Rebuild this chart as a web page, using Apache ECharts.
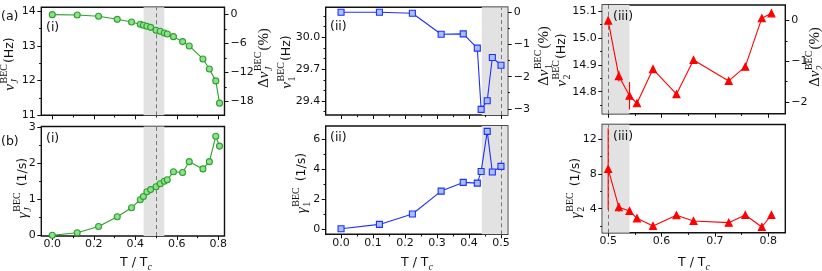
<!DOCTYPE html>
<html><head><meta charset="utf-8">
<script src="https://cdn.jsdelivr.net/npm/echarts@6/dist/echarts.min.js"></script>
<style>html,body{margin:0;padding:0;background:#fff}#c{width:822px;height:271px}</style>
</head><body><div id="c"></div>
<script>
// ---------- data ----------
const T_J = [0.0, 0.12, 0.223, 0.313, 0.382, 0.424, 0.439, 0.456, 0.474, 0.5, 0.52, 0.54, 0.554, 0.584, 0.628, 0.66, 0.726, 0.757, 0.788, 0.806];
const nuJ = [13.895, 13.885, 13.847, 13.76, 13.684, 13.617, 13.588, 13.56, 13.53, 13.444, 13.416, 13.368, 13.34, 13.262, 13.119, 12.994, 12.62, 12.333, 11.99, 11.35];
const gammaJ = [0.01, 0.08, 0.25, 0.52, 0.77, 0.99, 1.08, 1.21, 1.27, 1.35, 1.43, 1.50, 1.54, 1.76, 1.74, 2.04, 1.84, 2.04, 2.74, 2.47];
const T_1 = [0.0, 0.12, 0.223, 0.313, 0.382, 0.426, 0.438, 0.457, 0.473, 0.5];
const nu1 = [30.234, 30.234, 30.225, 30.028, 30.031, 29.897, 29.322, 29.403, 29.809, 29.737];
const gamma1 = [0.0, 0.29, 0.98, 2.51, 3.09, 3.04, 3.82, 6.49, 3.78, 4.16];
const T_2 = [0.5, 0.52, 0.54, 0.554, 0.584, 0.628, 0.66, 0.726, 0.757, 0.788, 0.806];
const nu2 = [15.064, 14.858, 14.785, 14.757, 14.884, 14.791, 14.918, 14.840, 14.893, 15.073, 15.091];
const nu2Err = [0.015, 0.02, 0.051, 0.01, 0.008, 0.006, 0.006, 0.006, 0.006, 0.006, 0.006];
const gamma2 = [8.58, 4.16, 3.73, 2.89, 2.0, 3.24, 2.58, 2.39, 3.27, 1.89, 3.27];
const gamma2Err = [4.7, 0.5, 0.35, 0.15, 0.15, 0.15, 0.15, 0.15, 0.15, 0.15, 0.15];
const shadeRange = [0.44, 0.54];
const dashedAt = 0.5;

// tick values
const xTicksJ = [0, 0.2, 0.4, 0.6, 0.8];
const xMinorJ = [0.1, 0.3, 0.5, 0.7];
const xTicks1 = [0, 0.1, 0.2, 0.3, 0.4, 0.5];
const xMinor1 = [0.05, 0.15, 0.25, 0.35, 0.45];
const xTicks2 = [0.5, 0.6, 0.7, 0.8];
const xMinor2 = [0.55, 0.65, 0.75];
const yTicksNuJ = [11, 12, 13, 14];
const yMinorNuJ = [11.5, 12.5, 13.5];
const pctTicksJ = [0, -6, -12, -18];
const pctMinorJ = [-3, -9, -15];
const yTicksGJ = [0, 1, 2, 3];
const yMinorGJ = [0.5, 1.5, 2.5];
const yTicksNu1 = [29.4, 29.7, 30.0];
const yMinorNu1 = [29.3, 29.5, 29.6, 29.8, 29.9, 30.1, 30.2];
const pctTicks1 = [0, -1, -2, -3];
const pctMinor1 = [-0.5, -1.5, -2.5];
const yTicksG1 = [0, 2, 4, 6];
const yMinorG1 = [1, 3, 5];
const yTicksNu2 = [14.8, 14.9, 15.0, 15.1];
const yMinorNu2 = [14.75, 14.85, 14.95, 15.05];
const pctTicks2 = [0, -1, -2];
const pctMinor2 = [-0.5, -1.5];
const yTicksG2 = [4, 8, 12];
const yMinorG2 = [2, 6, 10];

// ---------- helpers ----------
const SANS = '"DejaVu Sans", sans-serif';
const SERIF = '"Liberation Serif", "DejaVu Serif", serif';
const INK = '#111';
const dash = s => s.replace('-', '\u2212');
const fmt0 = v => dash(String(Math.round(v)));
const fmt1 = v => dash((Math.round(v * 10) / 10).toFixed(1));

function axisPair(gi, pos, range, maj, min, showLab, fmt) {
  const common = {type: 'value', gridIndex: gi, position: pos, min: range[0], max: range[1],
    axisLine: {show: false, onZero: false}, splitLine: {show: false}, splitArea: {show: false}};
  const margin = pos === 'right' ? 6 : (pos === 'left' ? 5.5 : 3);
  const a = Object.assign({}, common, {
    axisTick: {show: true, inside: false, length: 4, customValues: maj, lineStyle: {color: INK, width: 1}},
    axisLabel: {show: showLab, customValues: maj, formatter: fmt, color: INK, fontSize: 11, fontFamily: SANS, margin: margin}
  });
  const b = Object.assign({}, common, {
    axisTick: {show: true, inside: false, length: 2.2, customValues: min, lineStyle: {color: INK, width: 1}},
    axisLabel: {show: false}
  });
  return [a, b];
}

const grids = [], xAxes = [], yAxes = [], series = [];

function addPanel(p) {
  const gi = grids.length;
  grids.push(Object.assign({show: true, borderColor: INK, borderWidth: 1.4, backgroundColor: 'transparent'}, p.grid));
  const xi = xAxes.length;
  xAxes.push(...axisPair(gi, 'bottom', p.x, p.xMaj, p.xMin, p.xLab, fmt1));
  const yi = yAxes.length;
  yAxes.push(...axisPair(gi, 'left', p.y, p.yMaj, p.yMin, true, p.yFmt));
  if (p.pct) {
    const ref = p.pct.ref;
    const r = [(p.y[0] / ref - 1) * 100, (p.y[1] / ref - 1) * 100];
    yAxes.push(...axisPair(gi, 'right', r, p.pct.maj, p.pct.min, true, fmt0));
  }
  const a0 = Math.max(shadeRange[0], p.x[0]), a1 = Math.min(shadeRange[1], p.x[1]);
  const data = p.t.map((t, i) => [t, p.v[i]]);
  if (p.err) {
    series.push({
      type: 'custom', xAxisIndex: xi, yAxisIndex: yi, clip: true, z: 4, silent: true,
      data: p.t.map((t, i) => [t, p.v[i] - p.err[i], p.v[i] + p.err[i]]),
      encode: {x: 0, y: [1, 2]},
      renderItem: (params, api) => {
        const c1 = api.coord([api.value(0), api.value(1)]);
        const c2 = api.coord([api.value(0), api.value(2)]);
        return {type: 'line', shape: {x1: c1[0], y1: c1[1], x2: c2[0], y2: c2[1]},
          style: {stroke: p.color, lineWidth: 1.1}};
      }
    });
  }
  series.push({
    type: 'line', xAxisIndex: xi, yAxisIndex: yi, data: data, z: 3,
    symbol: p.symbol, symbolSize: p.symbolSize, showSymbol: true,
    lineStyle: {color: p.color, width: 1.1},
    itemStyle: {color: p.fill, borderColor: p.color, borderWidth: 1.1},
    markArea: {silent: true, z: 1, itemStyle: {color: '#e2e2e2'},
      data: [[{xAxis: a0}, {xAxis: a1}]]},
    markLine: {silent: true, symbol: 'none', z: 2, label: {show: false},
      lineStyle: {color: '#777', type: [4, 3], width: 1},
      data: [{xAxis: dashedAt}]}
  });
}

const green = {color: '#2ca02c', fill: '#8ee08e', symbol: 'circle', symbolSize: 6};
const blue = {color: '#1f2fff', fill: '#a8c0ff', symbol: 'rect', symbolSize: 6};
const red = {color: '#ff0000', fill: '#ff0000', symbol: 'triangle', symbolSize: 7};

addPanel(Object.assign({grid: {left: 41.3, top: 7.3, width: 183.2, height: 108},
  x: [-0.053, 0.83], xMaj: xTicksJ, xMin: xMinorJ, xLab: false,
  y: [11, 14.106], yMaj: yTicksNuJ, yMin: yMinorNuJ, yFmt: fmt0,
  pct: {ref: nuJ[0], maj: pctTicksJ, min: pctMinorJ}, t: T_J, v: nuJ}, green));
addPanel(Object.assign({grid: {left: 41.3, top: 126.5, width: 183.2, height: 109.5},
  x: [-0.053, 0.83], xMaj: xTicksJ, xMin: xMinorJ, xLab: true,
  y: [-0.01, 3.01], yMaj: yTicksGJ, yMin: yMinorGJ, yFmt: fmt0, t: T_J, v: gammaJ}, green));
addPanel(Object.assign({grid: {left: 325.7, top: 7.3, width: 182, height: 107.7},
  x: [-0.048, 0.521], xMaj: xTicks1, xMin: xMinor1, xLab: false,
  y: [29.269, 30.281], yMaj: yTicksNu1, yMin: yMinorNu1, yFmt: fmt1,
  pct: {ref: nu1[0], maj: pctTicks1, min: pctMinor1}, t: T_1, v: nu1}, blue));
addPanel(Object.assign({grid: {left: 325.7, top: 126, width: 182, height: 108.3},
  x: [-0.048, 0.521], xMaj: xTicks1, xMin: xMinor1, xLab: true,
  y: [-0.37, 6.85], yMaj: yTicksG1, yMin: yMinorG1, yFmt: fmt0, t: T_1, v: gamma1}, blue));
addPanel(Object.assign({grid: {left: 602.3, top: 5, width: 183, height: 108.8},
  x: [0.489, 0.832], xMaj: xTicks2, xMin: xMinor2, xLab: false,
  y: [14.718, 15.122], yMaj: yTicksNu2, yMin: yMinorNu2, yFmt: fmt1,
  pct: {ref: nu2[0], maj: pctTicks2, min: pctMinor2}, t: T_2, v: nu2, err: nu2Err}, red));
addPanel(Object.assign({grid: {left: 602.3, top: 124.5, width: 183, height: 108.2},
  x: [0.489, 0.832], xMaj: xTicks2, xMin: xMinor2, xLab: true,
  y: [1.233, 13.706], yMaj: yTicksG2, yMin: yMinorG2, yFmt: fmt0, t: T_2, v: gamma2, err: gamma2Err}, red));

// ---------- text labels ----------
const mctx = document.createElement('canvas').getContext('2d');
function tw(t, f) { mctx.font = f; return mctx.measureText(t).width; }
function txt(x, y, t, f, align) {
  return {type: 'text', x: x, y: y, silent: true, z: 100,
    style: {text: t, font: f, fill: INK, textAlign: align || 'left', align: align || 'left',
      textVerticalAlign: 'middle', verticalAlign: 'middle'}};
}
function mlabel(cx, cy, rot, parts) {
  const kids = []; let x = 0;
  parts.forEach(p => {
    const items = p.stack ? p.stack : [p];
    let wmax = 0;
    items.forEach(q => {
      wmax = Math.max(wmax, tw(q.t, q.f));
      kids.push(txt(x, q.dy || 0, q.t, q.f));
    });
    x += wmax + (p.gap || 0);
  });
  kids.forEach(k => { k.x -= x / 2; });
  return {type: 'group', x: cx, y: cy, rotation: rot, children: kids, silent: true, z: 100};
}
const R = Math.PI / 2;
const fNu = 'italic 15px ' + SERIF;
const fSup = '10px ' + SERIF;
const fSubI = 'italic 10px ' + SERIF;
const fUnit = '12.5px ' + SANS;
const fPct = '15px ' + SERIF;
function nuLabel(cx, cy, sub, subItalic) {
  return mlabel(cx, cy, R, [{t: 'ν', f: fNu, gap: 0.5},
    {stack: [{t: 'BEC', f: fSup, dy: -6}, {t: sub, f: subItalic ? fSubI : fSup, dy: 5}], gap: 1},
    {t: '(Hz)', f: fUnit}]);
}
function dnuLabel(cx, cy, sub, subItalic) {
  return mlabel(cx, cy, R, [{t: 'Δ', f: fPct}, {t: 'ν', f: fNu, gap: 0.5},
    {stack: [{t: 'BEC', f: fSup, dy: -6}, {t: sub, f: subItalic ? fSubI : fSup, dy: 5}], gap: 1},
    {t: '(%)', f: fPct}]);
}
function gLabel(cx, cy, sub, subItalic) {
  return mlabel(cx, cy, R, [{t: 'γ', f: fNu, gap: 0.5},
    {stack: [{t: 'BEC', f: fSup, dy: -6}, {t: sub, f: subItalic ? fSubI : fSup, dy: 5}], gap: 6},
    {t: '(1/s)', f: fUnit}]);
}
function tLabel(cx, cy) {
  return mlabel(cx, cy, 0, [{t: 'T / T', f: fUnit}, {t: 'c', f: 'italic 10px ' + SERIF, dy: 4}]);
}
const fPanel = '12.5px ' + SANS;
const graphics = [
  txt(1, 17, '(a)', fPanel), txt(1, 142, '(b)', fPanel),
  txt(46, 28, '(i)', fPanel), txt(46, 139, '(i)', fPanel),
  txt(330, 27, '(ii)', fPanel), txt(330, 138, '(ii)', fPanel),
  txt(613, 17, '(iii)', fPanel), txt(613, 137, '(iii)', fPanel),
  nuLabel(10, 64, 'J', true), dnuLabel(264, 58, 'J', true), gLabel(23, 188, 'J', true),
  nuLabel(287, 62, '1', false), dnuLabel(544, 56, '1', false), gLabel(302, 183, '1', false),
  nuLabel(562, 60, '2', false), dnuLabel(815, 57, '2', false), gLabel(576, 188, '2', false),
  tLabel(136, 263), tLabel(417, 263), tLabel(694, 263)
];

const chart = echarts.init(document.getElementById('c'), null, {renderer: 'canvas', width: 822, height: 271});
chart.setOption({
  animation: false,
  backgroundColor: '#fff',
  grid: grids.map(g => Object.assign({outerBoundsMode: 'none', containLabel: false}, g)),
  xAxis: xAxes,
  yAxis: yAxes,
  series: series,
  graphic: graphics
});
</script>
</body></html>
